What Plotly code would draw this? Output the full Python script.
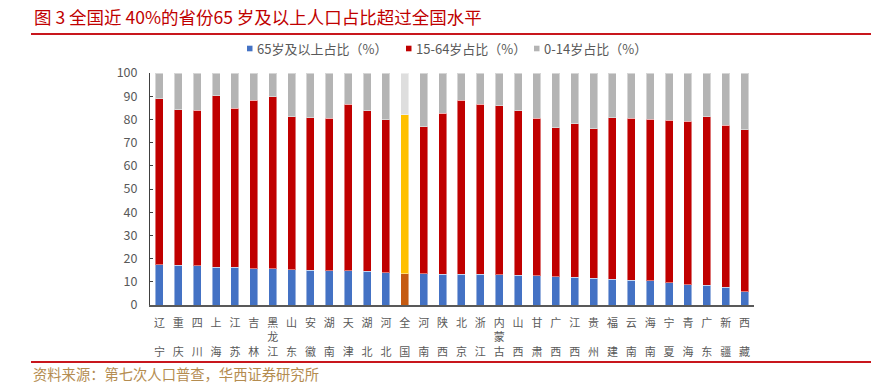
import plotly.graph_objects as go

categories = ["辽宁", "重庆", "四川", "上海", "江苏", "吉林", "黑龙江", "山东", "安徽", "湖南",
              "天津", "湖北", "河北", "全国", "河南", "陕西", "北京", "浙江", "内蒙古", "山西",
              "甘肃", "广西", "江西", "贵州", "福建", "云南", "海南", "宁夏", "青海", "广东",
              "新疆", "西藏"]
share_65plus = [17.42, 17.08, 16.93, 16.28, 16.20, 15.61, 15.61, 15.13, 15.01, 14.81,
                14.75, 14.59, 13.92, 13.50, 13.49, 13.32, 13.30, 13.27, 13.05, 12.90,
                12.58, 12.20, 11.89, 11.56, 11.10, 10.75, 10.43, 9.62, 8.68, 8.58,
                7.76, 5.67]
share_15_64 = [71.46, 67.01, 66.97, 73.92, 68.59, 72.68, 74.07, 66.09, 65.75, 65.67,
               71.78, 69.10, 65.86, 68.55, 63.37, 69.35, 74.86, 73.28, 72.91, 70.75,
               68.02, 64.17, 66.15, 64.47, 69.58, 69.68, 69.60, 70.00, 70.51, 72.57,
               69.78, 69.80]
share_0_14 = [11.12, 15.91, 16.10, 9.80, 15.21, 11.71, 10.32, 18.78, 19.24, 19.52,
              13.47, 16.31, 20.22, 17.95, 23.14, 17.33, 11.84, 13.45, 14.04, 16.35,
              19.40, 23.63, 21.96, 23.97, 19.32, 19.57, 19.97, 20.38, 20.81, 18.85,
              22.46, 24.53]
series_names = ["65岁及以上占比（%）", "15-64岁占比（%）", "0-14岁占比（%）"]
y_ticks = [0, 10, 20, 30, 40, 50, 60, 70, 80, 90, 100]
title_text = "图 3 全国近 40%的省份65 岁及以上人口占比超过全国水平"
source_text = "资料来源：第七次人口普查，华西证券研究所"

# plot-area pixel box
L, R, T, B = 150, 754, 73, 305
W, H = R - L, B - T
def px2x(p): return (p - L) / W
def py2y(p): return (B - p) / H

FONT = "Noto Sans CJK SC"
base_colors = ["#4472C4", "#C00000", "#B4B4B4"]
nat_colors = ["#C55A11", "#FFC000", "#DEDEDE"]
nat_idx = categories.index("全国")

def tick_label(name):
    chars = list(name)
    if len(chars) == 2:
        return chars[0] + "<br>\u3000<br>" + chars[1]
    return "<br>".join(chars)

fig = go.Figure()
for vals, name, bc, nc in zip([share_65plus, share_15_64, share_0_14], series_names, base_colors, nat_colors):
    colors = [nc if i == nat_idx else bc for i in range(len(categories))]
    fig.add_trace(go.Bar(
        x=categories, y=vals, name=name, showlegend=False,
        marker=dict(color=colors, line=dict(color="rgba(255,255,255,0.45)", width=1)),
    ))

# custom legend (small squares hugging their texts, as in the reference)
legend_sq_x = [247, 406, 534]
legend_y = 48.5
annotations = []
shapes = []
for sx, name, col in zip(legend_sq_x, series_names, base_colors):
    shapes.append(dict(type="rect", xref="paper", yref="paper",
                       x0=px2x(sx), x1=px2x(sx + 5.5), y0=py2y(legend_y + 2.8), y1=py2y(legend_y - 2.8),
                       fillcolor=col, line=dict(width=0)))
    annotations.append(dict(text=name, xref="paper", yref="paper", x=px2x(sx + 8), y=py2y(legend_y),
                            xanchor="left", yanchor="middle", showarrow=False,
                            font=dict(family=FONT, size=13, color="#595959")))

annotations += [
    dict(text=title_text, xref="paper", yref="paper", x=px2x(32), y=py2y(16),
         xanchor="left", yanchor="middle", showarrow=False,
         font=dict(family=FONT, size=17.5, color="#C00000")),
    dict(text=source_text, xref="paper", yref="paper", x=px2x(31), y=py2y(373),
         xanchor="left", yanchor="middle", showarrow=False,
         font=dict(family=FONT, size=14.3, color="#B48C50")),
]
shapes += [
    dict(type="line", xref="paper", yref="paper", x0=px2x(31), x1=px2x(871),
         y0=py2y(34), y1=py2y(34), line=dict(color="#C8161D", width=2)),
    dict(type="line", xref="paper", yref="paper", x0=px2x(31), x1=px2x(871),
         y0=py2y(362), y1=py2y(362), line=dict(color="#C8161D", width=2)),
]

fig.update_layout(
    width=881, height=384,
    margin=dict(l=L, r=881 - R, t=T, b=384 - B, pad=0),
    paper_bgcolor="white", plot_bgcolor="white",
    barmode="stack", bargap=0.58,
    font=dict(family=FONT, size=12, color="#595959"),
    showlegend=False,
    xaxis=dict(
        tickmode="array", tickvals=categories, ticktext=[tick_label(c) for c in categories],
        tickangle=0, showline=True, linecolor="#595959", linewidth=1.6,
        ticks="", showgrid=False, tickfont=dict(size=11, color="#595959"),
        ticklabelstandoff=7,
        range=[-0.5, len(categories) - 0.5],
    ),
    yaxis=dict(
        range=[0, 100], tickvals=y_ticks, showline=True, linecolor="#404040", linewidth=1,
        ticks="inside", ticklen=3, tickcolor="#404040", showgrid=False, zeroline=False,
        tickfont=dict(size=12.5, color="#595959"), ticklabelstandoff=9,
    ),
    annotations=annotations,
    shapes=shapes,
)

fig.write_html("out.html", config={"displayModeBar": False},
               post_script="document.body.style.margin='0';document.body.style.overflow='hidden';")
